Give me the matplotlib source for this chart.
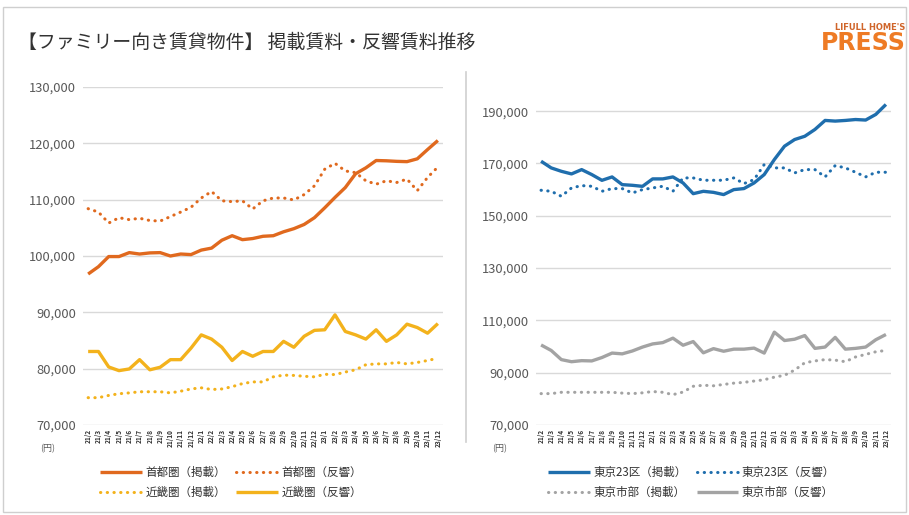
import matplotlib

matplotlib.use("Agg")
import matplotlib.pyplot as plt  # noqa: E402
from matplotlib.lines import Line2D  # noqa: E402
from matplotlib.patches import Rectangle  # noqa: E402
from matplotlib.ticker import FuncFormatter  # noqa: E402

plt.rcParams["font.family"] = ["Noto Sans CJK JP", "DejaVu Sans"]

months = ["21/2", "21/3", "21/4", "21/5", "21/6", "21/7", "21/8", "21/9", "21/10", "21/11", "21/12",
          "22/1", "22/2", "22/3", "22/4", "22/5", "22/6", "22/7", "22/8", "22/9", "22/10", "22/11", "22/12",
          "23/1", "23/2", "23/3", "23/4", "23/5", "23/6", "23/7", "23/8", "23/9", "23/10", "23/11", "23/12"]

# left panel (yen)
shuto_keisai = [96800, 98100, 99900, 99900, 100600, 100350, 100550, 100600, 100000, 100350, 100250,
                101050, 101400, 102800, 103600, 102900, 103100, 103500, 103600, 104300, 104850, 105600,
                106800, 108550, 110400, 112150, 114600, 115650, 116950, 116900, 116800, 116750, 117250,
                118900, 120500]
shuto_hankyo = [108400, 107800, 105850, 106800, 106450, 106700, 106300, 106200, 107000, 107800, 108650,
                110300, 111450, 109800, 109650, 109800, 108350, 109800, 110300, 110300, 109950, 110900,
                112450, 115400, 116450, 115100, 114800, 113350, 112750, 113350, 113050, 113650, 111600,
                113950, 115800]
kinki_keisai = [74850, 74850, 75250, 75550, 75700, 75900, 75900, 75900, 75700, 76000, 76400,
                76600, 76300, 76400, 76800, 77350, 77650, 77650, 78550, 78850, 78800, 78650,
                78550, 79000, 78950, 79400, 79800, 80700, 80850, 80850, 81100, 80850, 81100,
                81450, 81850]
kinki_hankyo = [83050, 83050, 80300, 79650, 79950, 81600, 79800, 80250, 81600, 81600, 83650,
                86000, 85250, 83800, 81450, 83050, 82200, 83050, 83050, 84850, 83800, 85750,
                86800, 86900, 89550, 86600, 86000, 85250, 86900, 84850, 86000, 87900, 87300,
                86300, 88000]

# right panel (yen)
t23_keisai = [170850, 168300, 167000, 166000, 167650, 165750, 163550, 164850, 161900, 161650, 161250,
              164100, 164100, 164850, 162550, 158450, 159350, 158950, 158100, 160000, 160400, 162550,
              165750, 171500, 176600, 179150, 180400, 183000, 186450, 186200, 186450, 186800, 186600,
              188750, 192550]
t23_hankyo = [159750, 159360, 157450, 160640, 161530, 161280, 159360, 160390, 160390, 158730, 160000,
              160640, 161280, 159360, 164470, 164470, 163580, 163580, 163580, 164470, 162300, 163830,
              169580, 168300, 168300, 166390, 167660, 167660, 164860, 169200, 168300, 166640, 164860,
              166640, 166640]
shibu_keisai = [82000, 82000, 82500, 82500, 82500, 82500, 82500, 82500, 82200, 82000, 82300,
                82800, 82500, 81600, 82600, 84800, 85200, 85000, 85500, 86000, 86300, 86800,
                87300, 88300, 89000, 91000, 93800, 94500, 95000, 94800, 94200, 96000, 97000,
                98000, 98500]
shibu_hankyo = [100600, 98500, 95000, 94200, 94600, 94500, 95800, 97500, 97200, 98300, 99800,
                101000, 101500, 103200, 100500, 101900, 97600, 99200, 98200, 99000, 99000, 99400,
                97500, 105500, 102300, 102800, 104200, 99300, 99800, 103500, 99000, 99300, 99800,
                102600, 104600]

ORANGE = "#E0691E"
YELLOW = "#F3B21C"
BLUE = "#1F6EAD"
GREY = "#A3A3A3"
DOT = dict(linestyle=(0, (0.1, 2.1)), dash_capstyle="round", lw=2.2)
SOLID = dict(linestyle="-", lw=2.4, solid_capstyle="butt")

W, H = 909, 515
fig = plt.figure(figsize=(W / 100, H / 100), dpi=100)


def fx(px):
    return px / W


def fy(py):
    return 1 - py / H


def style_axis(ax, ylim, yticks):
    ax.set_xlim(-0.5, len(months) - 0.5)
    ax.set_ylim(*ylim)
    ax.set_yticks(yticks)
    ax.yaxis.set_major_formatter(FuncFormatter(lambda v, p: f"{v:,.0f}"))
    ax.set_xticks(range(len(months)))
    ax.set_xticklabels(months, rotation=90, fontsize=4.7, fontweight="bold", color="#333333")
    ax.tick_params(axis="y", length=0, labelsize=9.3, labelcolor="#595959", pad=5)
    ax.tick_params(axis="x", length=0, pad=3)
    for s in ax.spines.values():
        s.set_visible(False)
    ax.grid(axis="y", color="#d9d9d9", lw=1)
    ax.set_axisbelow(True)


x = list(range(len(months)))

# left panel
axl = fig.add_axes([fx(83), fy(425), fx(360), (425 - 87) / H])
l1, = axl.plot(x, shuto_keisai, color=ORANGE, **SOLID)
l2, = axl.plot(x, shuto_hankyo, color=ORANGE, **DOT)
l3, = axl.plot(x, kinki_keisai, color=YELLOW, **DOT)
l4, = axl.plot(x, kinki_hankyo, color=YELLOW, **SOLID)
style_axis(axl, (70000, 130000), range(70000, 130001, 10000))

# right panel
axr = fig.add_axes([fx(536), fy(425), fx(355), (425 - 85) / H])
r1, = axr.plot(x, t23_keisai, color=BLUE, **SOLID)
r2, = axr.plot(x, t23_hankyo, color=BLUE, **DOT)
r3, = axr.plot(x, shibu_keisai, color=GREY, **DOT)
r4, = axr.plot(x, shibu_hankyo, color=GREY, **SOLID)
style_axis(axr, (70000, 200000), range(70000, 190001, 20000))

for px in (40, 492):
    fig.text(fx(px), fy(449), "(円)", fontsize=6.5, color="#595959", va="center")

leg_kw = dict(ncol=2, frameon=False, fontsize=8.3, handlelength=3.6, columnspacing=0.9,
              handletextpad=0.3, labelspacing=0.55, labelcolor="#333333")
fig.legend([l1, l3, l2, l4], ["首都圏（掲載）", "近畿圏（掲載）", "首都圏（反響）", "近畿圏（反響）"],
           loc="upper left", bbox_to_anchor=(fx(90), fy(456)), **leg_kw)
fig.legend([r1, r3, r2, r4], ["東京23区（掲載）", "東京市部（掲載）", "東京23区（反響）", "東京市部（反響）"],
           loc="upper left", bbox_to_anchor=(fx(538), fy(456)), **leg_kw)

# title, logo, frame, separator
fig.text(fx(18), fy(42), "【ファミリー向き賃貸物件】 掲載賃料・反響賃料推移", fontsize=13.6,
         color="#333333", va="center")
fig.text(fx(905), fy(27), "LIFULL HOME'S", fontsize=6, fontweight="bold", color="#D0652A",
         ha="right", va="center", family="DejaVu Sans")
fig.text(fx(906), fy(43), "PRESS", fontsize=17, fontweight="bold", color="#EE7B25",
         ha="right", va="center", family="DejaVu Sans")
fig.add_artist(Rectangle((fx(3), fy(512)), fx(903), (512 - 7) / H, transform=fig.transFigure,
                         fill=False, ec="#cfcfcf", lw=1))
fig.add_artist(Line2D([fx(466), fx(466)], [fy(72), fy(442)], transform=fig.transFigure,
                      color="#cfcfcf", lw=1.2))

fig.savefig("out.png", dpi=100)
